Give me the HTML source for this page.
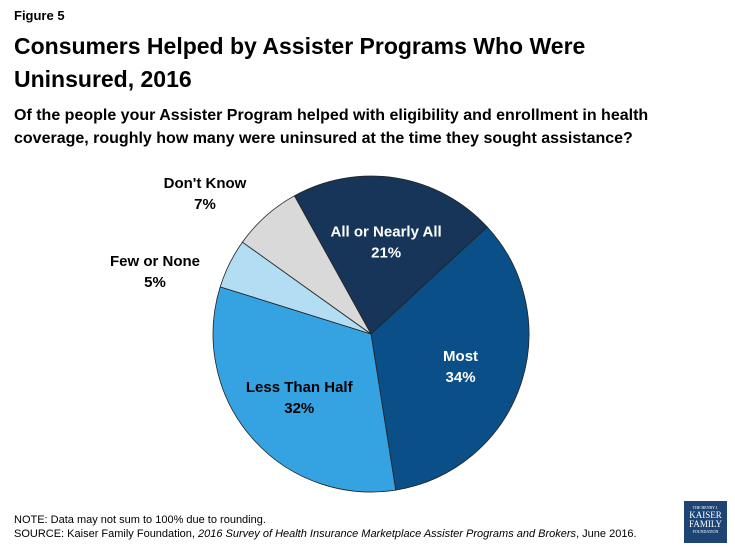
<!DOCTYPE html>
<html><head><meta charset="utf-8"><style>
body{margin:0;width:735px;height:551px;background:#fff;font-family:"Liberation Sans",Arial,sans-serif;position:relative;overflow:hidden}
.t{position:absolute;color:#000}
</style></head><body>
<div class="t" style="left:14px;top:8px;font-size:13px;font-weight:bold">Figure 5</div>
<div class="t" style="left:14px;top:30px;font-size:23px;font-weight:bold;line-height:33px">Consumers Helped by Assister Programs Who Were<br>Uninsured, 2016</div>
<div class="t" style="left:14px;top:104px;font-size:16px;font-weight:bold;line-height:23px">Of the people your Assister Program helped with eligibility and enrollment in health<br>coverage, roughly how many were uninsured at the time they sought assistance?</div>
<svg id="pie" width="735" height="551" style="position:absolute;left:0;top:0"></svg>
<div class="t" style="left:14px;top:513px;font-size:11px;line-height:14px">NOTE: Data may not sum to 100% due to rounding.<br>SOURCE: Kaiser Family Foundation, <i>2016 Survey of Health Insurance Marketplace Assister Programs and Brokers</i>, June 2016.</div>
<div style="position:absolute;left:684px;top:501px;width:43px;height:42px;background:#1d4474;color:#fff;font-family:'Liberation Serif',serif;text-align:center;line-height:9px">
<div style="font-size:4px;margin-top:4px;line-height:6px">THE HENRY J.</div><div style="font-size:9px">KAISER</div><div style="font-size:9px">FAMILY</div><div style="font-size:4px;line-height:6px">FOUNDATION</div></div>
<script>
const categories=["All or Nearly All","Most","Less Than Half","Few or None","Don't Know"];
const values=[21,34,32,5,7];
const colors=["#173559","#0a4f87","#35a2e2","#b3ddf3","#d9d9d9"];
const svg=document.getElementById('pie');
const NS='http://www.w3.org/2000/svg';
const cx=371,cy=334,r=158,start=-29;
const total=values.reduce((a,b)=>a+b,0);
function pt(a,rr){const t=a*Math.PI/180;return [cx+rr*Math.sin(t),cy-rr*Math.cos(t)];}
let a=start;
const inside=[true,true,true,false,false];
const outPos=[null,null,null,[155,270],[205,192]];
values.forEach((v,i)=>{
  const sw=v/total*360,a1=a+sw;
  const p0=pt(a,r),p1=pt(a1,r);
  const p=document.createElementNS(NS,'path');
  p.setAttribute('d',`M${cx},${cy}L${p0[0]},${p0[1]}A${r},${r} 0 ${sw>180?1:0} 1 ${p1[0]},${p1[1]}Z`);
  p.setAttribute('fill',colors[i]);p.setAttribute('stroke','#222');p.setAttribute('stroke-width','0.8');
  
  
  svg.appendChild(p);
  const mid=a+sw/2;
  let lx,ly;
  if(inside[i]){[lx,ly]=pt(mid,r*0.6);} else {[lx,ly]=outPos[i];}
  const fill=(i<2)?'#fff':'#000';
  [categories[i],v+'%'].forEach((s,j)=>{
    const t=document.createElementNS(NS,'text');
    t.setAttribute('x',lx);t.setAttribute('y',ly+j*21-4);
    t.setAttribute('text-anchor','middle');t.setAttribute('font-size','15');t.setAttribute('font-weight','bold');
    t.setAttribute('fill',fill);t.setAttribute('font-family','Liberation Sans, sans-serif');
    
    
    t.textContent=s;svg.appendChild(t);
  });
  a=a1;
});
</script>
</body></html>
